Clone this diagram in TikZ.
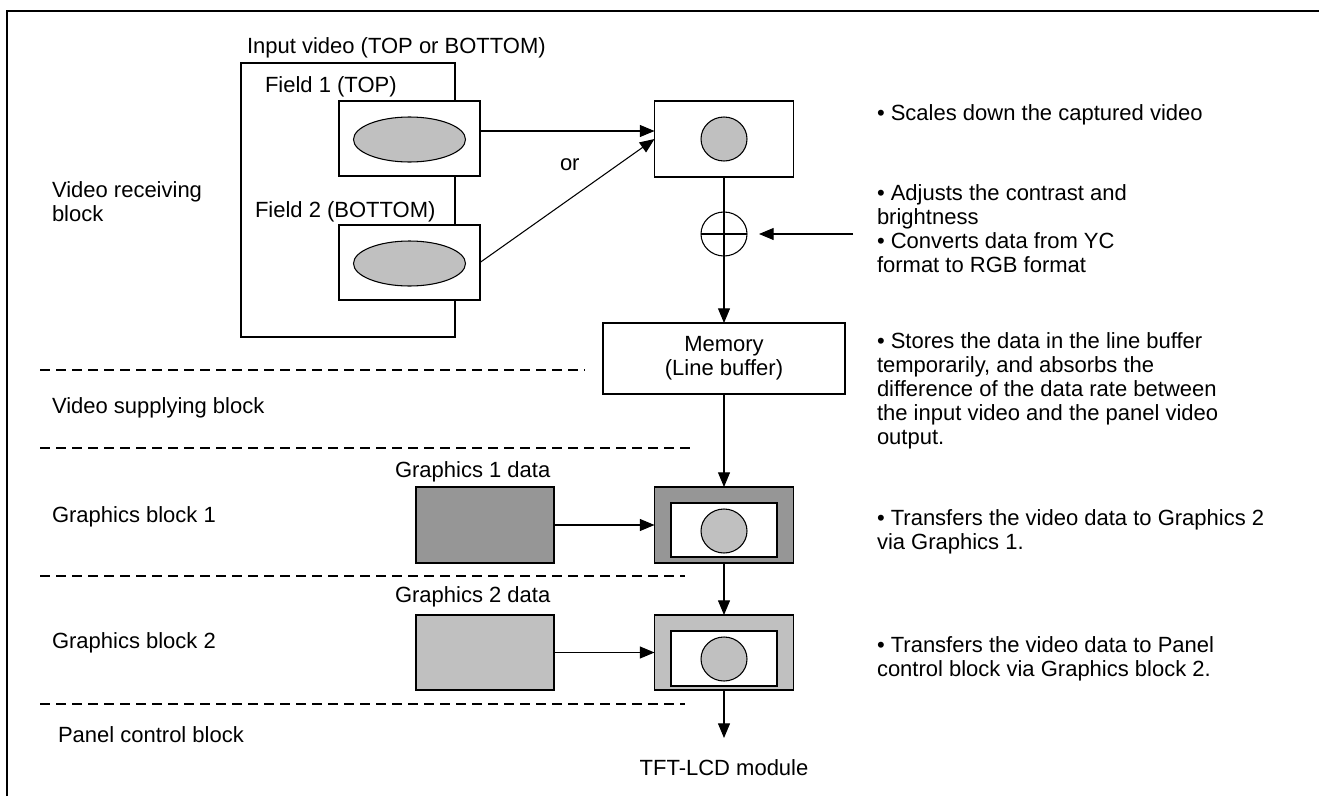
\documentclass[tikz,border=0pt]{standalone}
\usepackage{fontspec}
\setmainfont{Liberation Sans}
\usetikzlibrary{arrows.meta,calc,shapes.geometric}
\definecolor{gdark}{RGB}{150,150,150}
\definecolor{glight}{RGB}{192,192,192}
\newcommand\mylines[1]{\begin{tabular}[t]{@{}l@{}}#1\end{tabular}}
\begin{document}
\begin{tikzpicture}[x=0.75pt,y=-0.75pt,
  every node/.style={inner sep=0pt, outer sep=0pt, font=\fontsize{16.5pt}{18pt}\selectfont},
  sz/.style n args={2}{minimum width=#1*0.75pt, minimum height=#2*0.75pt},
  box/.style={draw, line width=0.8pt, rectangle},
  oval/.style={draw, line width=0.8pt, ellipse, fill=glight},
  arr/.style={draw, line width=0.8pt, -{Triangle[length=11pt,width=9pt]}},
  sep/.style={line width=0.9pt, dash pattern=on 7.5pt off 4.5pt},
  lbl/.style={anchor=base west}]
\fill[white] (0,0) rectangle (1319,796);
\useasboundingbox (0,0) rectangle (1319,796);
% frame
\draw[line width=1.6pt] (7,796) -- (7,11) -- (1319,11);

% input video
\node[lbl] (tin) at (247,53) {Input video (TOP or BOTTOM)};
\node[box, sz={214}{274}] (inbox) at (348,200) {};
\node[lbl] (tf1) at (265,92) {Field 1 (TOP)};
\node[box, fill=white, sz={141}{75}] (f1) at (409.5,138.5) {};
\node[oval, sz={112}{45}] (e1) at (409.5,139.5) {};
\node[lbl] (tf2) at (255,217) {Field 2 (BOTTOM)};
\node[box, fill=white, sz={141}{75}] (f2) at (409.5,262.5) {};
\node[oval, sz={112}{45}] (e2) at (409.5,263.5) {};

% scaling
\node[box, sz={139}{76}] (sc) at (724,139) {};
\node[oval, sz={46}{44}] (scc) at (724,139) {};
\coordinate (a1) at ($(f1.east)+(0,-7.5)$);
\draw[arr] (a1) -- (a1 -| sc.west);
\draw[arr] (f2.east) -- (sc.west);
\node[lbl] (tor) at (560,170) {or};

% plus
\node[draw, line width=0.8pt, ellipse, sz={46}{44}] (plus) at (724,234) {};
\draw[line width=0.8pt] (plus.west) -- (plus.east);
\coordinate (pin) at (853,234);
\draw[arr, shorten >=9pt] (pin) -- (plus.east);

% memory
\node[box, sz={242}{71}, align=center] (mem) at (724,358.5) {Memory\\(Line buffer)};
\draw[arr] (sc.south) -- (mem.north);

% graphics 1
\node[lbl] (tg1) at (395,477) {Graphics 1 data};
\node[box, fill=gdark, sz={138}{76}] (g1d) at (485,525) {};
\node[box, fill=gdark, sz={139}{76}] (g1) at (724,525) {};
\node[box, fill=white, sz={106}{54}] (g1i) at (724,530) {};
\node[oval, sz={46}{44}] (g1c) at (724,531) {};
\draw[arr] (g1d.east) -- (g1.west);
\draw[arr] (mem.south) -- (g1.north);

% graphics 2
\node[lbl] (tg2) at (395,602) {Graphics 2 data};
\node[box, fill=glight, sz={138}{75}] (g2d) at (485,652.5) {};
\node[box, fill=glight, sz={139}{75}] (g2) at (724,652.5) {};
\node[box, fill=white, sz={106}{55}] (g2i) at (724,658.5) {};
\node[oval, sz={46}{44}] (g2c) at (724,659) {};
\draw[arr] (g2d.east) -- (g2.west);
\draw[arr] (g1.south) -- (g2.north);

% output
\coordinate (tftp) at (724,738);
\draw[arr] (g2.south) -- (tftp);
\node[anchor=base] (tft) at (724,775) {TFT-LCD module};

% separators
\draw[sep] (40,370) -- (585,370);
\draw[sep] (40,448) -- (695,448);
\draw[sep] (40,576) -- (685,576);
\draw[sep] (40,704) -- (685,704);

% left labels
\node[lbl] (l1) at (52,197) {\mylines{Video receiving\\block}};
\node[lbl] (l2) at (52,413) {Video supplying block};
\node[lbl] (l3) at (52,522) {Graphics block 1};
\node[lbl] (l4) at (52,648) {Graphics block 2};
\node[lbl] (l5) at (58,742) {Panel control block};

% right descriptions
\node[lbl] (r1) at (877,120) {• Scales down the captured video};
\node[lbl] (r2) at (877,200) {\mylines{• Adjusts the contrast and\\brightness\\• Converts data from YC\\format to RGB format}};
\node[lbl] (r3) at (877,348) {\mylines{• Stores the data in the line buffer\\temporarily, and absorbs the\\difference of the data rate between\\the input video and the panel video\\output.}};
\node[lbl] (r4) at (877,525) {\mylines{• Transfers the video data to Graphics 2\\via Graphics 1.}};
\node[lbl] (r5) at (877,652) {\mylines{• Transfers the video data to Panel\\control block via Graphics block 2.}};
\end{tikzpicture}
\end{document}
